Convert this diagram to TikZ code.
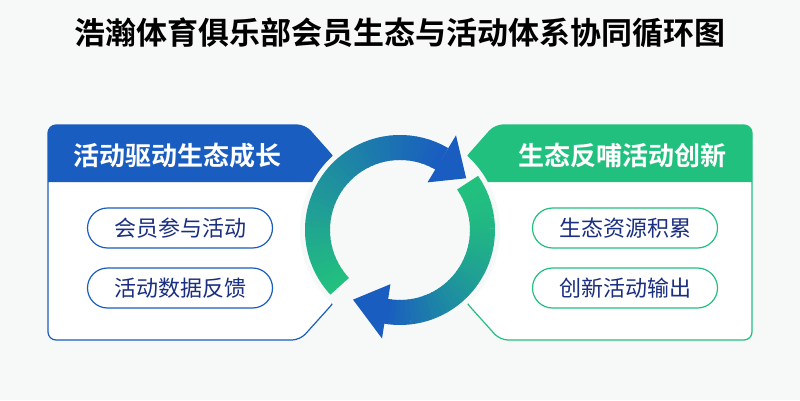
\documentclass[tikz,border=0pt]{standalone}
\usepackage{fontspec}
\setmainfont{Noto Sans CJK SC}
\newfontfamily\cjkb{Noto Sans CJK SC Bold}
\definecolor{bg}{HTML}{F7F8F8}
\definecolor{cblue}{HTML}{1A5DC0}
\definecolor{cgreen}{HTML}{22C07F}
\definecolor{tblue}{HTML}{1A2F80}
\tikzset{
  pillL/.style={draw=cblue,line width=1.2pt,fill=white,rounded corners=20pt,minimum width=185pt,minimum height=40pt,text=tblue,font=\fontsize{22}{22}\selectfont},
  pillR/.style={pillL,draw=cgreen},
  head/.style={text=white,font=\cjkb\fontsize{26}{26}\selectfont}
}
\begin{document}
\begin{tikzpicture}[x=1pt,y=1pt]
\useasboundingbox (0,0) rectangle (800,400);
\fill[bg] (0,0) rectangle (800,400);
\node[font=\cjkb\fontsize{31}{31}\selectfont] (title) at (400,367) {浩瀚体育俱乐部会员生态与活动体系协同循环图};
% left panel
\draw[cblue,line width=1.2pt,fill=white,rounded corners=8pt] (48,275) -- (305,275) -- (336,240) -- (336,100) -- (300,60) -- (48,60) -- cycle;
\fill[cblue,rounded corners=8pt] (48,218) -- (48,275) -- (305,275) [sharp corners]-- (336,240) -- (336,218) -- cycle;
\node[head] (hl) at (177,244) {活动驱动生态成长};
\node[pillL] (l1) at (180,172) {会员参与活动};
\node[pillL] (l2) at (180,112) {活动数据反馈};
% right panel
\draw[cgreen,line width=1.2pt,fill=white,rounded corners=8pt] (752,275) -- (495,275) -- (464,240) -- (464,100) -- (500,60) -- (752,60) -- cycle;
\fill[cgreen,rounded corners=8pt] (752,218) -- (752,275) -- (495,275) [sharp corners]-- (464,240) -- (464,218) -- cycle;
\node[head] (hr) at (622,244) {生态反哺活动创新};
\node[pillR] (r1) at (625,172) {生态资源积累};
\node[pillR] (r2) at (625,112) {创新活动输出};
% ring
\begin{scope}[shift={(400,170)}]
\fill[bg] (0,0) circle (100);
\foreach \i in {0,...,39}{
  \pgfmathsetmacro\a{223-\i*163/40}
  \pgfmathsetmacro\b{\a-163/40-0.6}
  \pgfmathsetmacro\p{\i*100/39}
  \colorlet{cc}{cblue!\p!cgreen}
  \draw[cc,line width=25pt] (\a:82.5) arc[start angle=\a,end angle=\b,radius=82.5];
}
\fill[cblue] (59.4:110) -- (60:55) -- (38:84) -- cycle;
\foreach \i in {0,...,39}{
  \pgfmathsetmacro\a{35-\i*135/40}
  \pgfmathsetmacro\b{\a-135/40-0.6}
  \pgfmathsetmacro\p{(\i/39)^1.6*100}
  \colorlet{cc}{cblue!\p!cgreen}
  \draw[cc,line width=25pt] (\a:82.5) arc[start angle=\a,end angle=\b,radius=82.5];
}
\fill[cblue] (-99.4:110) -- (-100:55) -- (-124:84) -- cycle;
\end{scope}
\end{tikzpicture}
\end{document}
